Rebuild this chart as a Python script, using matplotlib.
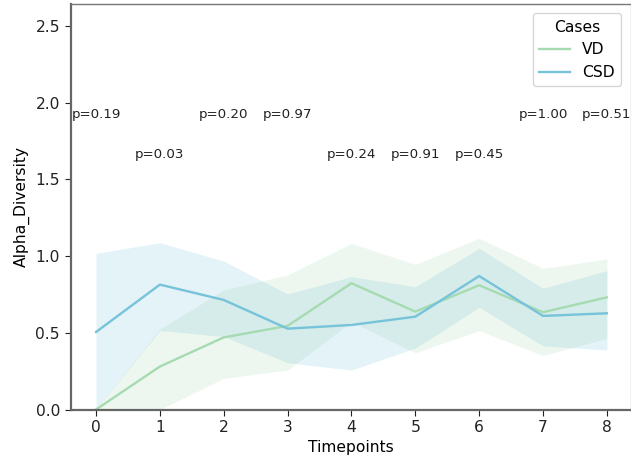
import matplotlib
matplotlib.use("Agg")
import matplotlib.pyplot as plt
import numpy as np

timepoints = [0, 1, 2, 3, 4, 5, 6, 7, 8]
vd_mean = [0.0, 0.28, 0.47, 0.545, 0.823, 0.638, 0.81, 0.634, 0.731]
vd_low = [0.0, 0.0, 0.203, 0.257, 0.572, 0.37, 0.514, 0.351, 0.464]
vd_high = [0.0, 0.525, 0.779, 0.877, 1.083, 0.946, 1.116, 0.92, 0.981]
csd_mean = [0.505, 0.814, 0.714, 0.527, 0.551, 0.605, 0.87, 0.61, 0.627]
csd_low = [0.0, 0.515, 0.475, 0.305, 0.257, 0.40, 0.666, 0.414, 0.388]
csd_high = [1.018, 1.087, 0.967, 0.753, 0.866, 0.80, 1.051, 0.79, 0.905]
p_labels = ["p=0.19", "p=0.03", "p=0.20", "p=0.97", "p=0.24", "p=0.91", "p=0.45", "p=1.00", "p=0.51"]
p_y = [1.92, 1.665, 1.92, 1.92, 1.665, 1.665, 1.665, 1.92, 1.92]

vd_color = "#a6dbb2"
csd_color = "#76c3da"

fig = plt.figure(figsize=(6.31, 4.58), dpi=100)
ax = fig.add_axes([70.5 / 631, (458 - 409.5) / 458, (630.5 - 70.5) / 631, (409.5 - 4) / 458])

ax.fill_between(timepoints, vd_low, vd_high, color=vd_color, alpha=0.2, linewidth=0)
ax.fill_between(timepoints, csd_low, csd_high, color=csd_color, alpha=0.2, linewidth=0)
ax.plot(timepoints, vd_mean, color=vd_color, lw=1.7, label="VD")
ax.plot(timepoints, csd_mean, color=csd_color, lw=1.7, label="CSD")

for t, lab, y in zip(timepoints, p_labels, p_y):
    ax.text(t, y, lab, ha="center", va="center", fontsize=9.6, color="#222222")

ax.set_xlim(-0.4, 8.37)
ax.set_ylim(0, 2.643)
ax.set_xticks(timepoints)
ax.set_yticks([0.0, 0.5, 1.0, 1.5, 2.0, 2.5])
ax.set_xlabel("Timepoints", fontsize=11.2)
ax.set_ylabel("Alpha_Diversity", fontsize=11.2)
for s in ["left", "bottom"]:
    ax.spines[s].set_color("#666666")
    ax.spines[s].set_linewidth(1.6)
for s in ["top", "right"]:
    ax.spines[s].set_color("#777777")
    ax.spines[s].set_linewidth(1.0)
ax.spines["right"].set_color("#bbbbbb")
ax.tick_params(colors="#222222", labelsize=11.2, length=4)

ax.legend(title="Cases", loc="upper right", fontsize=11.2, title_fontsize=11.2,
          borderaxespad=0.6)

fig.savefig("out.png", dpi=100)
